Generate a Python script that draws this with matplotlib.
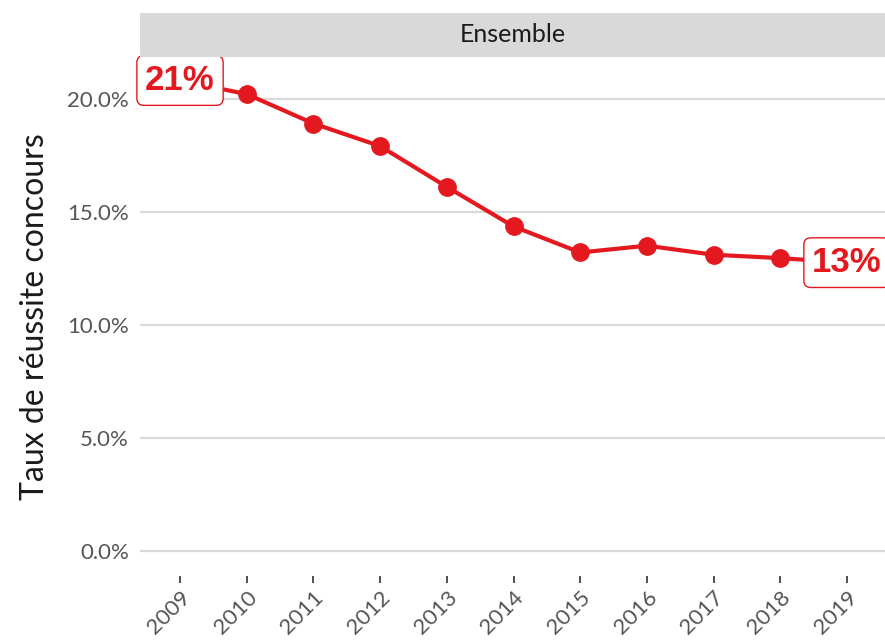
import matplotlib
matplotlib.use("Agg")
import matplotlib.pyplot as plt
import matplotlib.ticker as mticker

# Data
years = [2009, 2010, 2011, 2012, 2013, 2014, 2015, 2016, 2017, 2018, 2019]
taux = [20.8, 20.2, 18.9, 17.9, 16.1, 14.35, 13.2, 13.5, 13.1, 12.95, 12.75]
facet_label = "Ensemble"
y_label = "Taux de réussite concours"

RED = "#e3191f"
GRID = "#d9d9d9"
TICK_COL = "#555555"

plt.rcParams['font.family'] = ['Lato', 'DejaVu Sans']

fig = plt.figure(figsize=(8.85, 6.4), dpi=100)
W, H = 885, 640

def px_box(x0, y0, x1, y1):
    return [x0 / W, 1 - y1 / H, (x1 - x0) / W, (y1 - y0) / H]

ax = fig.add_axes(px_box(140, 57, 885, 576))
strip = fig.add_axes(px_box(140, 13, 885, 57))

# strip
strip.set_facecolor(GRID)
strip.set_xticks([])
strip.set_yticks([])
for s in strip.spines.values():
    s.set_visible(False)
strip.text(0.5, 0.5, facet_label, ha='center', va='center', fontsize=18,
           color="#1a1a1a", transform=strip.transAxes)

# main panel
ax.plot(years, taux, color=RED, lw=3, marker='o', markersize=12.5,
        solid_capstyle='round', zorder=3, clip_on=False)

for i in (0, len(years) - 1):
    ax.text(years[i], taux[i], "{:.0f}%".format(taux[i]), ha='center', va='center',
            fontsize=25, fontweight='bold', color=RED, family='Liberation Sans',
            zorder=5, clip_on=False,
            bbox=dict(boxstyle='round,pad=0.24,rounding_size=0.2', fc='white',
                      ec=RED, lw=1.0))

ax.set_xlim(2008.4, 2019.57)
ax.set_ylim(-1.1, 21.84)
ax.set_yticks([0, 5, 10, 15, 20])
ax.yaxis.set_major_formatter(mticker.FuncFormatter(lambda v, p: "{:.1f}%".format(v)))
ax.set_xticks(years)
ax.set_xticklabels([str(y) for y in years], rotation=45, ha='right',
                   rotation_mode='anchor')

ax.grid(axis='y', color=GRID, lw=1.6)
ax.grid(axis='x', visible=False)
ax.set_axisbelow(True)
for s in ax.spines.values():
    s.set_visible(False)

ax.tick_params(axis='y', length=0, pad=8, labelsize=16, labelcolor=TICK_COL)
ax.tick_params(axis='x', length=5, width=1.2, color="#333333", pad=3,
               labelsize=16, labelcolor=TICK_COL)

ax.set_ylabel(y_label, fontsize=23, color="#1a1a1a", labelpad=12)

fig.savefig("out.png", dpi=100)
